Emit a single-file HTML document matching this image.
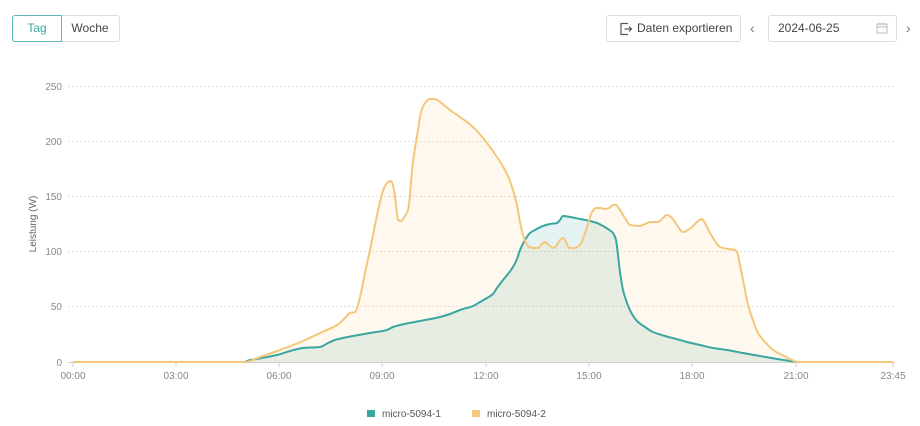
<!DOCTYPE html>
<html><head><meta charset="utf-8">
<style>
html,body{margin:0;padding:0;background:#fff;width:920px;height:426px;overflow:hidden;font-family:"Liberation Sans",sans-serif;}
.abs{position:absolute;box-sizing:border-box;}
.btn{position:absolute;box-sizing:border-box;height:27px;top:15px;font-size:12px;line-height:25px;text-align:center;}
</style></head><body>
<div class="btn" style="left:12px;width:50px;border:1px solid #5cbcb3;border-radius:3px 0 0 3px;color:#3aa9a0;z-index:2;">Tag</div>
<div class="btn" style="left:61px;width:59px;border:1px solid #dcdcdc;border-left:none;border-radius:0 3px 3px 0;color:#444;">Woche</div>

<div class="btn" style="left:606px;width:135px;border:1px solid #dcdcdc;border-radius:3px;color:#444;text-align:left;padding-left:30px;">Daten exportieren</div>
<svg class="abs" style="left:619px;top:22px" width="14" height="14" viewBox="0 0 14 14"><path d="M9 1.5H2v11h7M5.5 7h7M10 4.5 12.5 7 10 9.5" fill="none" stroke="#555" stroke-width="1.2"/></svg>
<div class="abs" style="left:750px;top:20px;font-size:14px;color:#777;">&#8249;</div>
<div class="btn" style="left:768px;width:129px;border:1px solid #dcdcdc;border-radius:3px;color:#444;text-align:left;padding-left:9px;">2024-06-25</div>
<svg class="abs" style="left:876px;top:22px" width="12" height="12" viewBox="0 0 12 12"><rect x="1" y="2" width="10" height="9" fill="none" stroke="#bbb"/><path d="M1 5h10M4 0.5v3M8 0.5v3" stroke="#bbb"/></svg>
<div class="abs" style="left:906px;top:20px;font-size:14px;color:#777;">&#8250;</div>

<svg id="chart" class="abs" style="left:0;top:0" width="920" height="426">
<g stroke="#dedede" stroke-width="1" stroke-dasharray="2,2">
<line x1="68" y1="86.5" x2="895" y2="86.5"/>
<line x1="68" y1="141.5" x2="895" y2="141.5"/>
<line x1="68" y1="196.5" x2="895" y2="196.5"/>
<line x1="68" y1="251.5" x2="895" y2="251.5"/>
<line x1="68" y1="306.5" x2="895" y2="306.5"/>
</g>
<g font-size="10" fill="#888" text-anchor="end">
<text x="62" y="90">250</text>
<text x="62" y="145">200</text>
<text x="62" y="200">150</text>
<text x="62" y="255">100</text>
<text x="62" y="310">50</text>
<text x="62" y="366">0</text>
</g>
<text x="0" y="0" font-size="10" fill="#666" text-anchor="middle" transform="translate(36,224) rotate(-90)">Leistung (W)</text>

<polygon id="aT" fill="#3aa6a0" fill-opacity="0.13" points="73,362 245,362 247,361 262,358 277,355 290,351 303,348 320,347 328,343 335,340 353,336 370,333 387,330 393,327 400,325 420,321 440,317 450,314 460,310 473,306 480,302 487,298 493,294 497,288 503,280 508,274 513,267 517,259 520,250 525,240 530,233 535,230 543,226 550,224 557,223 560,220 563,216 570,217 580,219 590,221 597,223 603,226 608,229 613,233 616,240 618,255 620,272 623,290 627,303 632,314 637,321 645,327 653,332 665,336 680,340 687,342 700,345 713,348 727,350 743,353 760,356 777,359 790,361 797,362 893,362"/>
<polygon id="aY" fill="#f5c97a" fill-opacity="0.13" points="73,362 245,362 260,357 280,350 303,341 320,333 337,325 345,318 350,313 355,312 358,305 362,288 366,268 370,250 375,225 380,202 384,188 388,182 391,181 394,190 396,205 398,220 401,221 405,216 408,210 410,195 412,170 415,148 418,130 421,112 425,103 430,99 435,99 440,102 450,110 460,117 473,127 487,143 497,157 507,174 513,190 517,205 520,222 524,238 528,246 533,248 538,248 542,244 545,242 549,245 553,248 556,246 560,240 563,238 566,242 569,248 574,248 580,245 584,236 588,224 592,212 596,208 600,208 605,209 609,208 613,205 616,205 620,210 625,218 630,225 640,226 645,224 650,222 658,222 663,218 667,215 671,217 675,222 683,232 688,230 693,226 698,221 702,219 706,225 710,233 715,241 720,247 728,249 735,250 737,252 740,265 744,285 748,305 753,320 758,333 765,342 772,349 780,354 790,359 797,362 893,362"/>

<line x1="68" y1="362.5" x2="895" y2="362.5" stroke="#cfcfcf"/>
<g stroke="#cfcfcf">
<line x1="73" y1="362" x2="73" y2="367"/><line x1="176" y1="362" x2="176" y2="367"/><line x1="279" y1="362" x2="279" y2="367"/><line x1="382" y1="362" x2="382" y2="367"/><line x1="486" y1="362" x2="486" y2="367"/><line x1="589" y1="362" x2="589" y2="367"/><line x1="692" y1="362" x2="692" y2="367"/><line x1="796" y1="362" x2="796" y2="367"/><line x1="893" y1="362" x2="893" y2="367"/>
</g>

<polyline id="lT" fill="none" stroke="#3aa6a0" stroke-width="2" stroke-linejoin="round" points="73,362 245,362 247,361 262,358 277,355 290,351 303,348 320,347 328,343 335,340 353,336 370,333 387,330 393,327 400,325 420,321 440,317 450,314 460,310 473,306 480,302 487,298 493,294 497,288 503,280 508,274 513,267 517,259 520,250 525,240 530,233 535,230 543,226 550,224 557,223 560,220 563,216 570,217 580,219 590,221 597,223 603,226 608,229 613,233 616,240 618,255 620,272 623,290 627,303 632,314 637,321 645,327 653,332 665,336 680,340 687,342 700,345 713,348 727,350 743,353 760,356 777,359 790,361 797,362"/>
<polyline id="lY" fill="none" stroke="#f3c77a" stroke-width="2" stroke-linejoin="round" points="73,362 245,362 260,357 280,350 303,341 320,333 337,325 345,318 350,313 355,312 358,305 362,288 366,268 370,250 375,225 380,202 384,188 388,182 391,181 394,190 396,205 398,220 401,221 405,216 408,210 410,195 412,170 415,148 418,130 421,112 425,103 430,99 435,99 440,102 450,110 460,117 473,127 487,143 497,157 507,174 513,190 517,205 520,222 524,238 528,246 533,248 538,248 542,244 545,242 549,245 553,248 556,246 560,240 563,238 566,242 569,248 574,248 580,245 584,236 588,224 592,212 596,208 600,208 605,209 609,208 613,205 616,205 620,210 625,218 630,225 640,226 645,224 650,222 658,222 663,218 667,215 671,217 675,222 683,232 688,230 693,226 698,221 702,219 706,225 710,233 715,241 720,247 728,249 735,250 737,252 740,265 744,285 748,305 753,320 758,333 765,342 772,349 780,354 790,359 797,362 893,362"/>

<g font-size="10" fill="#888" text-anchor="middle">
<text x="73" y="379">00:00</text><text x="176" y="379">03:00</text><text x="279" y="379">06:00</text><text x="382" y="379">09:00</text><text x="486" y="379">12:00</text><text x="589" y="379">15:00</text><text x="692" y="379">18:00</text><text x="796" y="379">21:00</text><text x="893" y="379">23:45</text>
</g>

<rect x="367" y="410" width="8" height="7" fill="#3aa6a0"/>
<text x="382" y="417" font-size="10" fill="#555">micro-5094-1</text>
<rect x="472" y="410" width="8" height="7" fill="#f5c97a"/>
<text x="487" y="417" font-size="10" fill="#555">micro-5094-2</text>
</svg>
<script>
(function(){
  var NS="http://www.w3.org/2000/svg";
  function parse(el){
    var s=el.getAttribute("points").trim().split(/\s+/);
    var xs=[],ys=[];
    for(var i=0;i<s.length;i++){var p=s[i].split(",");xs.push(+p[0]);ys.push(+p[1]);}
    return [xs,ys];
  }
  function smooth(xs,ys){
    var n=xs.length,d=[],m=[],h=[];
    for(var k=0;k<n-1;k++){h[k]=xs[k+1]-xs[k];d[k]=(ys[k+1]-ys[k])/h[k];}
    m[0]=d[0];m[n-1]=d[n-2];
    for(var k=1;k<n-1;k++){
      if(d[k-1]*d[k]<=0)m[k]=0;
      else{var h0=h[k-1],h1=h[k];m[k]=3*(h0+h1)/((2*h1+h0)/d[k-1]+(h1+2*h0)/d[k]);}
    }
    var p="M"+xs[0]+","+ys[0];
    for(var k=0;k<n-1;k++){
      var t=h[k]/3;
      p+="C"+(xs[k]+t).toFixed(2)+","+(ys[k]+m[k]*t).toFixed(2)+" "+(xs[k+1]-t).toFixed(2)+","+(ys[k+1]-m[k+1]*t).toFixed(2)+" "+xs[k+1]+","+ys[k+1];
    }
    return p;
  }
  function rep(id,closed){
    var el=document.getElementById(id);if(!el)return;
    var a=parse(el),path=document.createElementNS(NS,"path");
    var dstr=smooth(a[0],a[1]);
    if(closed)dstr+="Z";
    path.setAttribute("d",dstr);
    var attrs=["fill","fill-opacity","stroke","stroke-width","stroke-linejoin"];
    for(var i=0;i<attrs.length;i++){var v=el.getAttribute(attrs[i]);if(v!==null)path.setAttribute(attrs[i],v);}
    el.parentNode.replaceChild(path,el);
  }
  try{rep("aT",true);rep("aY",true);rep("lT",false);rep("lY",false);}catch(e){}
})();
</script>
</body></html>
